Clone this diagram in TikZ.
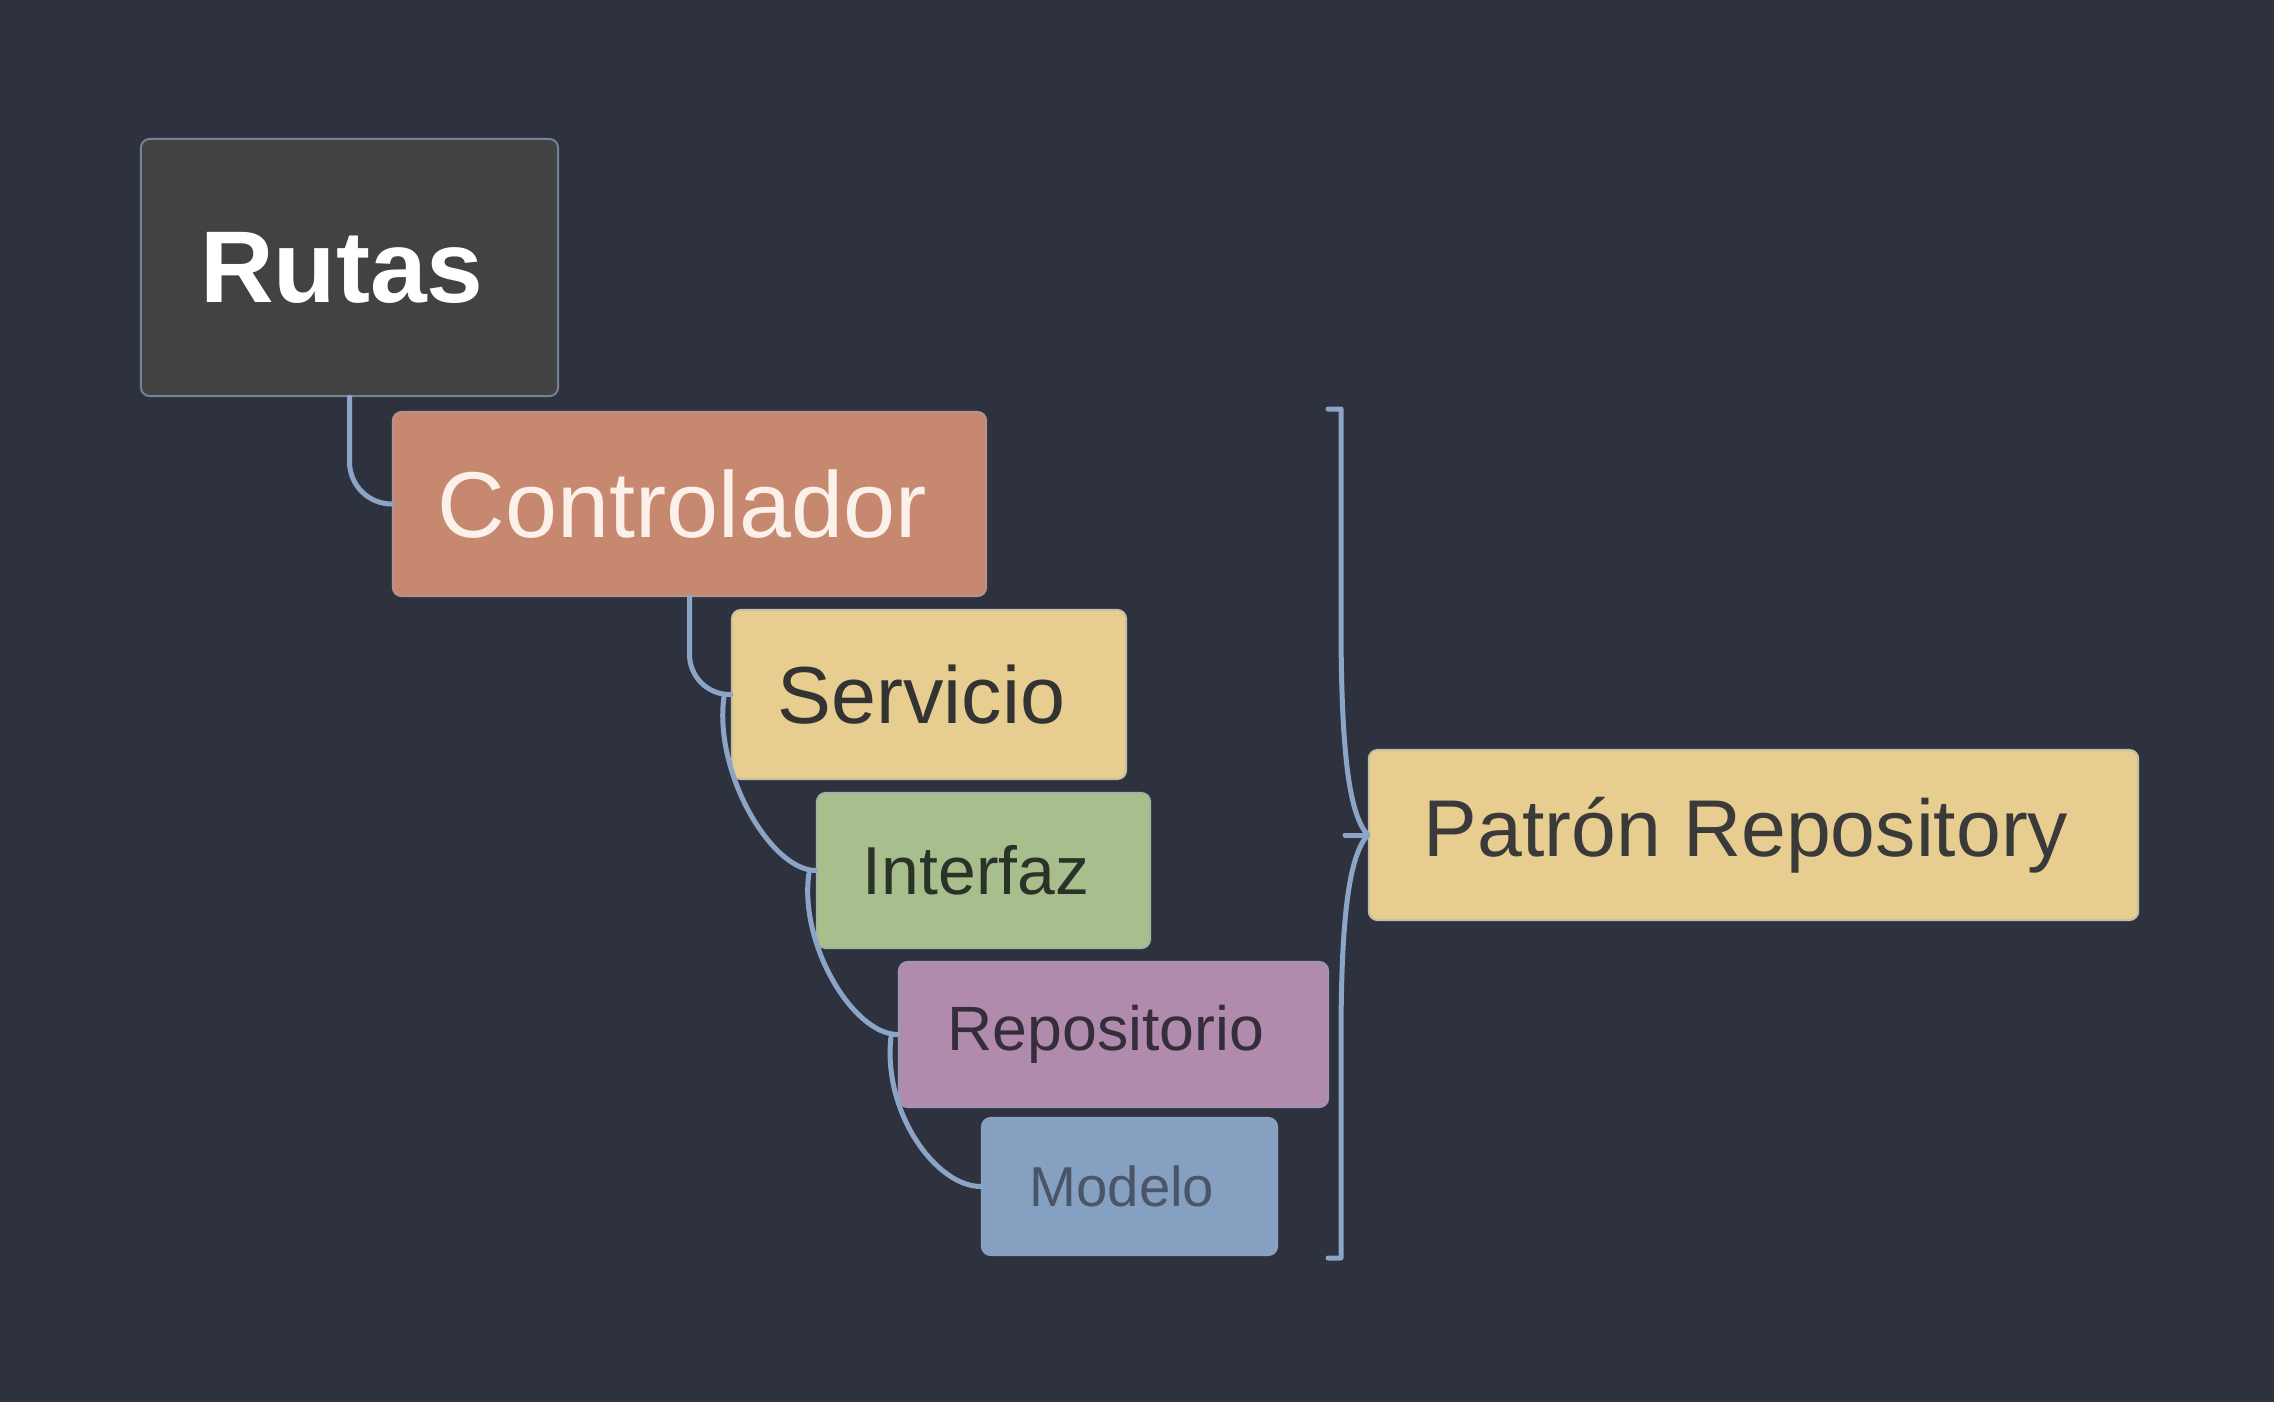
\documentclass[tikz,border=0pt]{standalone}
\usepackage{fontspec}
\setmainfont{Liberation Sans}
\definecolor{bg}{HTML}{2E323E}
\definecolor{lnc}{HTML}{8CA5C6}
\definecolor{rutasfill}{HTML}{424242}
\definecolor{ctrlfill}{HTML}{C6896F}
\definecolor{yelfill}{HTML}{E7CD90}
\definecolor{grnfill}{HTML}{A8BF8D}
\definecolor{purfill}{HTML}{B08BAD}
\definecolor{blufill}{HTML}{86A0C1}
\definecolor{darktxt}{HTML}{333333}
\newcommand{\lft}{\kern0.15cm}
\begin{document}
\begin{tikzpicture}[x=0.01cm,y=-0.01cm,
  box/.style={rectangle, rounded corners=2.5pt, inner sep=0pt, line width=0.02cm},
  conn/.style={draw=lnc, line width=0.05cm, line cap=round, line join=round}]
\fill[bg] (0,0) rectangle (2274,1402);
\useasboundingbox (0,0) rectangle (2274,1402);

\node[box, fill=rutasfill, draw=lnc!65!rutasfill, minimum width=4.17cm, minimum height=2.57cm,
  text=white, font=\fontsize{29}{34}\bfseries\selectfont] (rutas) at (349.5,267.5) {Rutas\lft};
\node[box, fill=ctrlfill, draw=lnc!40!ctrlfill, minimum width=5.93cm, minimum height=1.84cm,
  text={rgb,255:red,252;green,240;blue,234}, font=\fontsize{26.6}{31}\selectfont] (ctrl) at (689.5,504) {Controlador\lft};
\node[box, fill=yelfill, draw=lnc!35!yelfill, minimum width=3.94cm, minimum height=1.69cm,
  text=darktxt, font=\fontsize{23}{28}\selectfont] (serv) at (929,694.5) {Servicio\lft};
\node[box, fill=grnfill, draw=lnc!35!grnfill, minimum width=3.33cm, minimum height=1.55cm,
  text={rgb,255:red,43;green,51;blue,40}, font=\fontsize{19.3}{23}\selectfont] (inter) at (983.5,870.5) {Interfaz\lft};
\node[box, fill=purfill, draw=lnc!35!purfill, minimum width=4.29cm, minimum height=1.45cm,
  text={rgb,255:red,53;green,46;blue,58}, font=\fontsize{17.8}{21}\selectfont] (repo) at (1113.5,1034.5) {Repositorio\lft};
\node[box, fill=blufill, draw=lnc!35!blufill, minimum width=2.95cm, minimum height=1.37cm,
  text={rgb,255:red,74;green,85;blue,104}, font=\fontsize{16}{19}\selectfont] (modelo) at (1129.5,1186.5) {Modelo\lft};
\node[box, fill=yelfill, draw=lnc!35!yelfill, minimum width=7.69cm, minimum height=1.70cm,
  text={rgb,255:red,58;green,58;blue,58}, font=\fontsize{22.9}{27}\selectfont] (patron) at (1753.5,835) {Patrón Repository\lft};

% tree connectors
\draw[conn, rounded corners=12pt] (rutas.south) |- (ctrl.west);
\draw[conn, rounded corners=11.4pt] (ctrl.south) |- (serv.west);
\draw[conn] ([shift={(-7,3)}]serv.west) .. controls +(-10,75) and +(-45,0) .. (inter.west);
\draw[conn] ([shift={(-7,3)}]inter.west) .. controls +(-10,70) and +(-45,0) .. (repo.west);
\draw[conn] ([shift={(-7,3)}]repo.west) .. controls +(-8,75) and +(-45,0) .. (modelo.west);

% brace
\coordinate (btop) at (1328,409);
\coordinate (bbot) at (1328,1258);
\coordinate (btick) at (1345,835);
\draw[conn] (btop) -- (1341,409) -- (1341,620)
  .. controls (1341,760) and (1350,815) .. (patron.west)
  .. controls (1350,855) and (1341,910) .. (1341,1040)
  -- (1341,1258) -- (bbot);
\draw[conn] (btick) -- (patron.west);
\end{tikzpicture}
\end{document}
